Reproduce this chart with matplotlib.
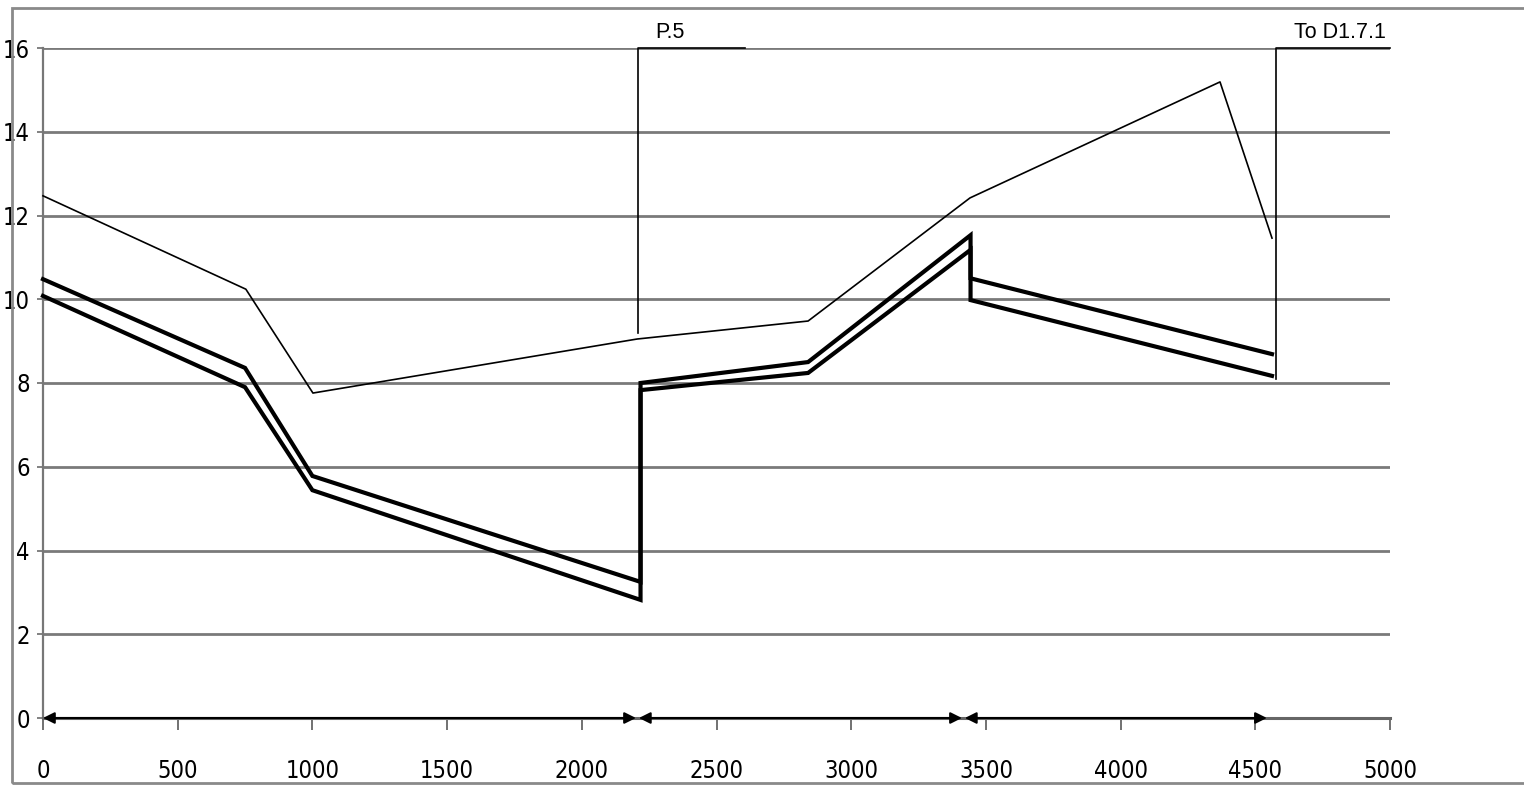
import matplotlib
matplotlib.use("Agg")
import matplotlib.pyplot as plt
from matplotlib.patches import Rectangle

# ---- data ----
ground_x = [0, 753, 1002, 2205, 2840, 3441, 4369, 4562]
ground_y = [12.47, 10.24, 7.76, 9.05, 9.48, 12.42, 15.19, 11.46]

upper_x = [0, 750, 1000, 2218, 2218, 2840, 3443, 3443, 4562]
upper_y = [10.48, 8.36, 5.78, 3.25, 8.0, 8.5, 11.53, 10.5, 8.69]

lower_x = [0, 750, 1000, 2218, 2218, 2840, 3443, 3443, 4562]
lower_y = [10.08, 7.9, 5.44, 2.82, 7.83, 8.24, 11.18, 9.98, 8.17]

spans = [(0, 2201), (2212, 3411), (3422, 4543)]

markers = [(2208, 9.19, "P.5", 2606), (4577, 8.1, "To D1.7.1", 5000)]

xticks = [0, 500, 1000, 1500, 2000, 2500, 3000, 3500, 4000, 4500, 5000]
yticks = [0, 2, 4, 6, 8, 10, 12, 14, 16]

# ---- figure ----
W, H = 1524, 786
fig = plt.figure(figsize=(W / 100, H / 100), dpi=100)
fig.patch.set_facecolor("white")

x0, x1 = 43, 1390
y0, y1 = 718, 48
ax = fig.add_axes([x0 / W, 1 - y0 / H, (x1 - x0) / W, (y0 - y1) / H])
ax.set_xlim(0, 5000)
ax.set_ylim(0, 16)

for s in ["top", "right"]:
    ax.spines[s].set_visible(False)
ax.spines["left"].set_color("#777777")
ax.spines["left"].set_linewidth(1.6)
ax.spines["bottom"].set_color("#666666")
ax.spines["bottom"].set_linewidth(2.2)

ax.set_yticks(yticks)
ax.set_xticks(xticks)
ax.yaxis.grid(True, color="#7a7a7a", linewidth=2.0)
ax.set_axisbelow(True)

ax.tick_params(axis="x", direction="out", length=8.5, width=1.3, color="#666666",
               pad=21, labelsize=17)
ax.tick_params(axis="y", direction="out", length=4.5, width=1.3, color="#777777",
               pad=5, labelsize=17)
for lab in ax.get_xticklabels() + ax.get_yticklabels():
    lab.set_family(["DejaVu Sans"])
    lab.set_fontstretch("condensed")

# profiles
ax.plot(ground_x, ground_y, color="black", linewidth=1.2, clip_on=False, zorder=3)
ax.plot(upper_x, upper_y, color="black", linewidth=3.0, clip_on=False, zorder=3,
        solid_joinstyle="miter")
ax.plot(lower_x, lower_y, color="black", linewidth=3.0, clip_on=False, zorder=3,
        solid_joinstyle="miter")

# section markers
for mx, my, label, mend in markers:
    ax.plot([mx, mx, mend], [my, 16, 16], color="black", linewidth=1.2,
            clip_on=False, zorder=4)
    ax.text(mx + 65, 16.25, label, fontsize=15.5, family=["Liberation Sans", "DejaVu Sans"],
            ha="left", va="baseline", clip_on=False)

# dimension arrows along the x axis
for a, b in spans:
    ax.annotate("", xy=(b, 0), xytext=(a, 0),
                arrowprops=dict(arrowstyle="<|-|>", color="black", lw=1.5,
                                mutation_scale=17, shrinkA=0, shrinkB=0),
                annotation_clip=False, zorder=5)

# outer frame
fig.patches.append(Rectangle((12 / W, 3 / H), 1.2, (783 - 8) / H, transform=fig.transFigure,
                             fill=False, edgecolor="#8a8a8a", linewidth=2.0))

fig.savefig("out.png", dpi=100)
